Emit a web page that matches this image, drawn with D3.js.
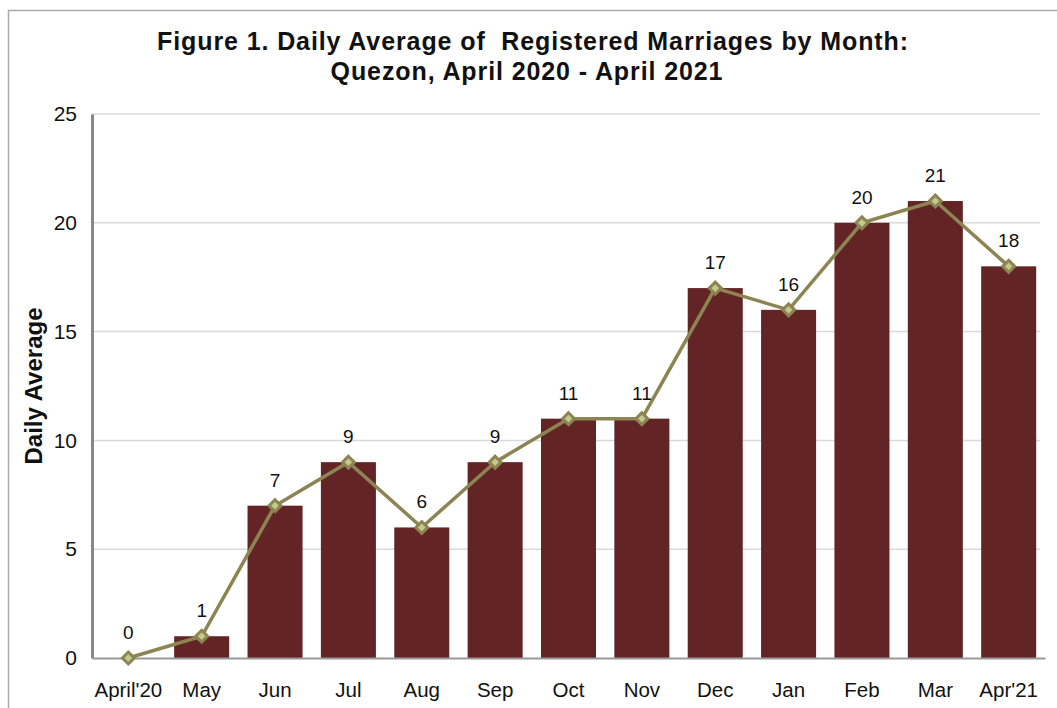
<!DOCTYPE html>
<html>
<head>
<meta charset="utf-8">
<script src="https://cdn.jsdelivr.net/npm/d3@7"></script>
<style>
  body { margin: 0; background: #fff; overflow: hidden; }
  text { font-family: "Liberation Sans", Arial, sans-serif; }
</style>
</head>
<body>
<svg></svg>
<script>
let months = ["April'20", "May", "Jun", "Jul", "Aug", "Sep", "Oct", "Nov", "Dec", "Jan", "Feb", "Mar", "Apr'21"]
let values = [0, 1, 7, 9, 6, 9, 11, 11, 17, 16, 20, 21, 18]
let yTicks = [0, 5, 10, 15, 20, 25]

let width = 1057
let height = 708

let plotLeft = 92
let plotRight = 1045
let plotTop = 114
let plotBottom = 658

let svg = d3.select("svg")
    .attr("width", width)
    .attr("height", height)
    .style("display", "block")

// outer frame
svg.append("rect")
    .attr("x", 8.5)
    .attr("y", 10.5)
    .attr("width", 1070)
    .attr("height", 720)
    .attr("fill", "none")
    .attr("stroke", "#aaa")
    .attr("stroke-width", 1.5)

let xScale = d3.scaleBand()
    .domain(months)
    .range([plotLeft, plotRight])
    .paddingInner(0.25)
    .paddingOuter(0.12)

let yScale = d3.scaleLinear()
    .domain([0, 25])
    .range([plotBottom, plotTop])

// gridlines
svg.append("g")
    .selectAll("line")
    .data(yTicks.filter(d => d > 0))
    .enter()
    .append("line")
    .attr("x1", plotLeft)
    .attr("x2", 1040)
    .attr("y1", d => yScale(d))
    .attr("y2", d => yScale(d))
    .attr("stroke", "#d9d9d9")
    .attr("stroke-width", 1.5)

// bars
svg.append("g")
    .selectAll("rect")
    .data(values)
    .enter()
    .append("rect")
    .attr("x", (d, i) => xScale(months[i]))
    .attr("y", d => yScale(d))
    .attr("width", xScale.bandwidth())
    .attr("height", d => plotBottom - yScale(d))
    .attr("fill", "#632425")

// y axis
let yAxis = d3.axisLeft(yScale)
    .tickValues(yTicks)
    .tickSize(0)
    .tickPadding(15)

let yg = svg.append("g")
    .attr("transform", "translate(" + plotLeft + ",0)")
    .call(yAxis)
yg.select(".domain").attr("stroke", "#888").attr("stroke-width", 3)
yg.selectAll("text")
    .attr("font-size", 21)
    .attr("fill", "#111")
    .style("font-family", "'Liberation Sans', Arial, sans-serif")

// x axis
let xAxis = d3.axisBottom(xScale)
    .tickSize(0)
    .tickPadding(24)

let xg = svg.append("g")
    .attr("transform", "translate(0," + plotBottom + ")")
    .call(xAxis)
xg.select(".domain").attr("stroke", "#999").attr("stroke-width", 2)
xg.selectAll("text")
    .attr("font-size", 20.5)
    .attr("fill", "#111")
    .style("font-family", "'Liberation Sans', Arial, sans-serif")

// line
let line = d3.line()
    .x((d, i) => xScale(months[i]) + xScale.bandwidth() / 2)
    .y(d => yScale(d))

svg.append("path")
    .datum(values)
    .attr("d", line)
    .attr("fill", "none")
    .attr("stroke", "#8c8553")
    .attr("stroke-width", 3.5)

// diamond markers
svg.append("g")
    .selectAll("path")
    .data(values)
    .enter()
    .append("path")
    .attr("d", d3.symbol().type(d3.symbolDiamond2).size(90))
    .attr("transform", (d, i) => "translate(" + (xScale(months[i]) + xScale.bandwidth() / 2) + "," + yScale(d) + ")")
    .attr("fill", "#c3c98a")
    .attr("stroke", "#8c8553")
    .attr("stroke-width", 3)

// value labels
svg.append("g")
    .selectAll("text")
    .data(values)
    .enter()
    .append("text")
    .attr("x", (d, i) => xScale(months[i]) + xScale.bandwidth() / 2)
    .attr("y", d => yScale(d) - 19)
    .attr("text-anchor", "middle")
    .attr("font-size", 19)
    .attr("fill", "#111")
    .text(d => d)

// title
let title = svg.append("text")
    .attr("text-anchor", "middle")
    .attr("font-size", 25)
    .attr("font-weight", "bold")
    .attr("letter-spacing", 0.9)
    .attr("fill", "#111")
    .style("white-space", "pre")
title.append("tspan").attr("x", 533).attr("y", 50).text("Figure 1. Daily Average of  Registered Marriages by Month:")
title.append("tspan").attr("x", 527).attr("y", 80).text("Quezon, April 2020 - April 2021")

// y axis label
svg.append("text")
    .attr("transform", "translate(42,386) rotate(-90)")
    .attr("text-anchor", "middle")
    .attr("font-size", 24)
    .attr("font-weight", "bold")
    .attr("fill", "#111")
    .text("Daily Average")
</script>
</body>
</html>
